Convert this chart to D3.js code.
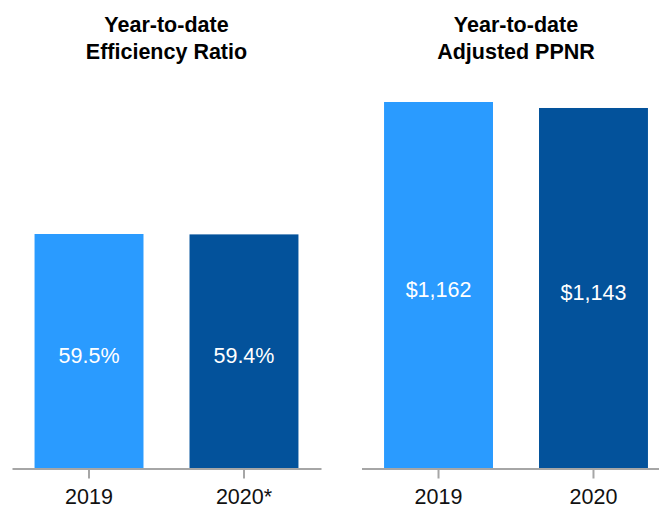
<!DOCTYPE html>
<meta charset="utf-8">
<head>
<style>
  body { margin: 0; background: #fff; }
  svg text { font-family: "Liberation Sans", Arial, sans-serif; }
  .title { font-weight: bold; font-size: 21.5px; fill: #000; }
  .axis text { font-size: 21.5px; fill: #111; }
  .axis path, .axis line { stroke: #a6a6a6; stroke-width: 2px; }
  .val { font-size: 21.5px; fill: #fff; }
</style>
</head>
<script src="https://d3js.org/d3.v7.min.js"></script>
<div id="chart"></div>
<script>
// left panel data
var effYears = ["2019", "2020*"];
var effValues = [59.5, 59.4];
var effLabels = ["59.5%", "59.4%"];

// right panel data
var ppnrYears = ["2019", "2020"];
var ppnrValues = [1162, 1143];
var ppnrLabels = ["$1,162", "$1,143"];

var colors = ["#2a9bff", "#03529b"];

var width = 659, height = 506;
var base = 468.5;

var svg = d3.select("#chart").append("svg")
  .attr("width", width)
  .attr("height", height);

function panel(years, values, labels, titleLines, x0, x1, yMax, yTopPx) {
  var x = d3.scaleBand()
    .domain(years)
    .range([x0, x1])
    .paddingInner(0.297)
    .paddingOuter(0.1455);

  var y = d3.scaleLinear()
    .domain([0, yMax])
    .range([base, yTopPx]);

  var g = svg.append("g");

  g.selectAll("rect")
    .data(values)
    .enter().append("rect")
      .attr("x", function(d, i) { return x(years[i]); })
      .attr("y", function(d) { return y(d); })
      .attr("width", x.bandwidth())
      .attr("height", function(d) { return base - y(d); })
      .attr("fill", function(d, i) { return colors[i]; });

  g.selectAll("text.val")
    .data(values)
    .enter().append("text")
      .attr("class", "val")
      .attr("text-anchor", "middle")
      .attr("x", function(d, i) { return x(years[i]) + x.bandwidth() / 2; })
      .attr("y", function(d) { return (y(d) + base) / 2; })
      .attr("dy", "0.53em")
      .text(function(d, i) { return labels[i]; });

  g.append("g")
    .attr("class", "axis")
    .attr("transform", "translate(0," + base + ")")
    .call(d3.axisBottom(x).tickSize(10).tickSizeOuter(0).tickPadding(10));

  var cx = (x0 + x1) / 2;
  g.append("text")
    .attr("class", "title")
    .attr("text-anchor", "middle")
    .attr("x", cx)
    .attr("y", 31.5)
    .text(titleLines[0]);
  g.append("text")
    .attr("class", "title")
    .attr("text-anchor", "middle")
    .attr("x", cx)
    .attr("y", 59)
    .text(titleLines[1]);
}

// zero based scales, max value position
panel(effYears, effValues, effLabels, ["Year-to-date", "Efficiency Ratio"], 12, 321, 59.5, 234);
panel(ppnrYears, ppnrValues, ppnrLabels, ["Year-to-date", "Adjusted PPNR"], 361.5, 670.5, 1162, 102);
</script>
